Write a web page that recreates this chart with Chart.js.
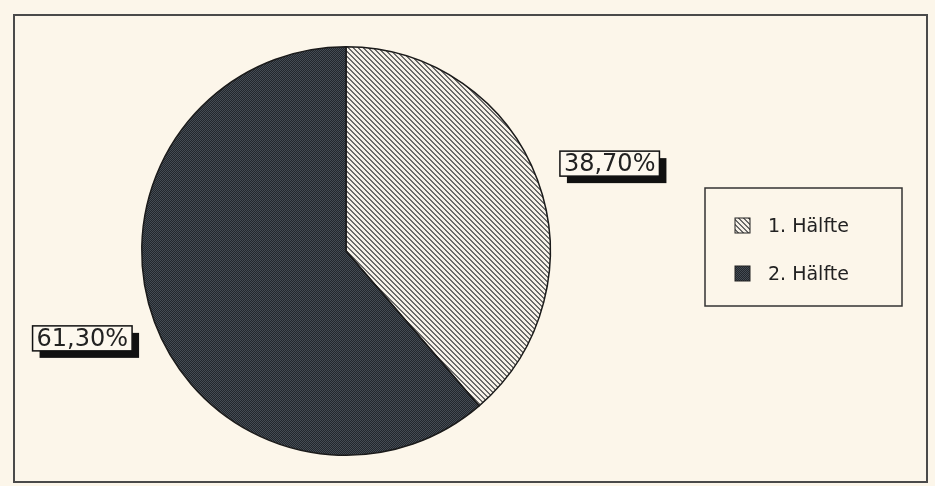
<!DOCTYPE html>
<html>
<head>
<meta charset="utf-8">
<script src="https://cdn.jsdelivr.net/npm/chart.js@4"></script>
<style>
  html, body { margin: 0; padding: 0; background: #fcf6ea; }
  #wrap { width: 935px; height: 486px; }
</style>
</head>
<body>
<div id="wrap"><canvas id="pie" width="935" height="486"></canvas></div>
<script>
// data
const halves = ['1. Hälfte', '2. Hälfte'];
const shares = [38.70, 61.30];

// fill patterns: diagonal hatch and dark stipple
function hatch() {
  const c = document.createElement('canvas');
  c.width = 5; c.height = 5;
  const g = c.getContext('2d');
  g.fillStyle = '#f6f1e8';
  g.fillRect(0, 0, 5, 5);
  g.fillStyle = '#6a6a6a';
  for (let y = 0; y < 5; y++) {
    for (let x = 0; x < 5; x++) {
      const d = ((x - y) % 5 + 5) % 5;
      if (d === 0 || d === 1) g.fillRect(x, y, 1, 1);
    }
  }
  return g.createPattern(c, 'repeat');
}

function stipple() {
  const c = document.createElement('canvas');
  c.width = 2; c.height = 2;
  const g = c.getContext('2d');
  g.fillStyle = '#22272d';
  g.fillRect(0, 0, 2, 2);
  g.fillStyle = '#454c54';
  g.fillRect(0, 0, 1, 1);
  g.fillRect(1, 1, 1, 1);
  return g.createPattern(c, 'repeat');
}

const fills = [hatch(), stipple()];
const fmt = v => v.toFixed(2).replace('.', ',') + '%';

const backdrop = {
  id: 'backdrop',
  beforeDraw(chart) {
    const ctx = chart.ctx;
    ctx.save();
    ctx.fillStyle = '#fcf6ea';
    ctx.fillRect(0, 0, chart.width, chart.height);
    ctx.strokeStyle = '#4a4a4a';
    ctx.lineWidth = 2;
    ctx.strokeRect(14, 15, 913, 467);
    ctx.restore();
  }
};

const sliceLabels = {
  id: 'sliceLabels',
  afterDatasetsDraw(chart) {
    const ctx = chart.ctx;
    const meta = chart.getDatasetMeta(0);
    ctx.save();
    ctx.font = '24px "DejaVu Sans"';
    ctx.textAlign = 'center';
    ctx.textBaseline = 'middle';
    meta.data.forEach((arc, i) => {
      const mid = (arc.startAngle + arc.endAngle) / 2 + 0.035;
      const r = arc.outerRadius * 1.36;
      const cx = arc.x + Math.cos(mid) * r;
      const cy = arc.y + Math.sin(mid) * r;
      const txt = fmt(shares[i]);
      const w = ctx.measureText(txt).width + 8;
      const h = 25;
      ctx.fillStyle = '#111';
      ctx.fillRect(cx - w / 2 + 7, cy - h / 2 + 7, w, h);
      ctx.fillStyle = '#fdf8ee';
      ctx.fillRect(cx - w / 2, cy - h / 2, w, h);
      ctx.strokeStyle = '#111';
      ctx.lineWidth = 1.5;
      ctx.strokeRect(cx - w / 2, cy - h / 2, w, h);
      ctx.fillStyle = '#222';
      ctx.fillText(txt, cx, cy + 1);
    });
    ctx.restore();
  }
};

const boxLegend = {
  id: 'boxLegend',
  afterDraw(chart) {
    const ctx = chart.ctx;
    ctx.save();
    ctx.strokeStyle = '#333';
    ctx.lineWidth = 1.5;
    ctx.strokeRect(705, 188, 197, 118);
    ctx.font = '19px "DejaVu Sans"';
    ctx.textBaseline = 'alphabetic';
    halves.forEach((name, i) => {
      const y = 232 + i * 48;
      ctx.fillStyle = fills[i];
      ctx.fillRect(735, y - 14, 15, 15);
      ctx.strokeStyle = '#222';
      ctx.lineWidth = 1;
      ctx.strokeRect(735, y - 14, 15, 15);
      ctx.fillStyle = '#222';
      ctx.fillText(name, 768, y);
    });
    ctx.restore();
  }
};

new Chart(document.getElementById('pie'), {
  type: 'pie',
  data: {
    labels: halves,
    datasets: [{
      data: shares,
      backgroundColor: fills,
      borderColor: '#1a1a1a',
      borderWidth: 1.5
    }]
  },
  options: {
    responsive: false,
    animation: false,
    layout: { padding: { left: 141, right: 384, top: 46, bottom: 30 } },
    plugins: {
      legend: { display: false },
      tooltip: { enabled: false }
    }
  },
  plugins: [backdrop, sliceLabels, boxLegend]
});
</script>
</body>
</html>
